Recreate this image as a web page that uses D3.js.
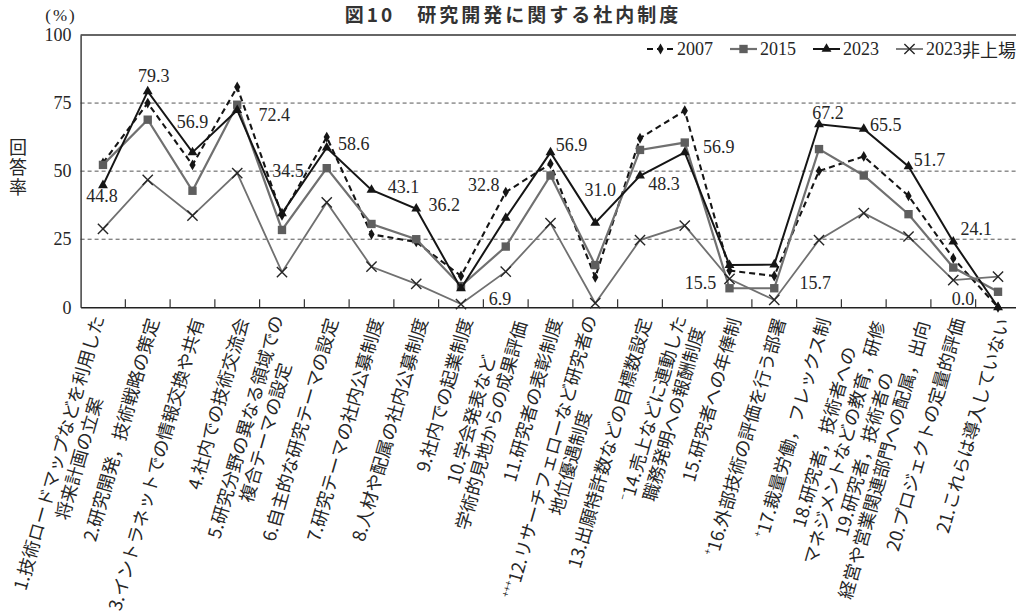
<!DOCTYPE html>
<html>
<head>
<meta charset="utf-8">
<script src="https://cdn.jsdelivr.net/npm/d3@7"></script>
<style>
  body { margin: 0; background: #fff; }
  svg { display: block; }
  .num { font-family: "Liberation Serif", "DejaVu Serif", serif; }
  .jp  { font-family: "Noto Sans CJK JP", "Noto Sans", sans-serif; }
  .vertical { writing-mode: vertical-rl; text-orientation: upright; }
</style>
</head>
<body>
<svg id="chart" width="1016" height="613"></svg>
<script>
// ---- data -------------------------------------------------------------
const title = "図10　研究開発に関する社内制度";

const categories = [
  ["1.技術ロードマップなどを利用した", "将来計画の立案"],
  ["2.研究開発，技術戦略の策定"],
  ["3.イントラネットでの情報交換や共有"],
  ["4.社内での技術交流会"],
  ["5.研究分野の異なる領域での", "複合テーマの設定"],
  ["6.自主的な研究テーマの設定"],
  ["7.研究テーマの社内公募制度"],
  ["8.人材や配属の社内公募制度"],
  ["9.社内での起業制度"],
  ["10.学会発表など", "学術的見地からの成果評価"],
  ["11.研究者の表彰制度"],
  ["12.リサーチフェローなど研究者の", "地位優遇制度"],
  ["13.出願特許数などの目標数設定"],
  ["14.売上などに連動した", "職務発明への報酬制度"],
  ["15.研究者への年俸制"],
  ["16.外部技術の評価を行う部署"],
  ["17.裁量労働，フレックス制"],
  ["18.研究者，技術者への", "マネジメントなどの教育，研修"],
  ["19.研究者，技術者の", "経営や営業関連部門への配属，出向"],
  ["20.プロジェクトの定量的評価"],
  ["21.これらは導入していない"]
];
// significance marks printed before some category numbers
const categoryMarks = ["", "", "", "", "", "", "", "", "", "", "",
                       "+++", "", "−", "", "+", "+", "", "", "", ""];

const seriesNames = ["2007", "2015", "2023", "2023非上場"];
const values2007 = [53.0, 75.0, 52.3, 80.9, 33.8, 62.5, 26.8, 24.0, 11.5, 42.3, 52.7,
                    11.0, 62.1, 72.2, 13.5, 11.5, 50.1, 55.4, 40.9, 18.0, 0.0];
const values2015 = [52.3, 68.9, 42.8, 74.4, 28.4, 51.1, 30.6, 25.0, 7.8, 22.3, 48.4,
                    15.5, 57.8, 60.5, 7.0, 7.0, 58.1, 48.4, 34.2, 14.6, 5.7];
const values2023 = [44.8, 79.3, 56.9, 72.4, 34.5, 58.6, 43.1, 36.2, 6.9, 32.8, 56.9,
                    31.0, 48.3, 56.9, 15.5, 15.7, 67.2, 65.5, 51.7, 24.1, 0.0];
const values2023Unlisted = [28.8, 46.8, 33.7, 49.3, 12.9, 38.5, 14.9, 8.6, 1.2, 13.1, 30.9,
                            1.5, 24.7, 30.0, 10.4, 2.7, 24.7, 34.6, 26.0, 10.0, 11.3];

const yTicks = [0, 25, 50, 75, 100];
const gridTicks = [25, 50, 75];

// ---- layout & styles ---------------------------------------------------
const svg = d3.select("#chart");
const plot = { left: 80.6, right: 1020.4, top: 35, bottom: 307.3 };

const x = d3.scaleBand()
  .domain(d3.range(categories.length))
  .range([plot.left, plot.right])
  .paddingInner(0).paddingOuter(0);
const xc = i => x(i) + x.bandwidth() / 2;
const y = d3.scaleLinear().domain([0, 100]).range([plot.bottom, plot.top]);

const styles = [
  { stroke: "#151515", width: 2.1, dash: "6,4", symbol: d3.symbolDiamond, size: 34, fill: "#151515", mstroke: "none" },
  { stroke: "#707070", width: 2.2, dash: null,  symbol: d3.symbolSquare,  size: 70, fill: "#5e5e5e", mstroke: "none" },
  { stroke: "#151515", width: 2.0, dash: null,  symbol: d3.symbolTriangle, size: 42, fill: "#151515", mstroke: "none" },
  { stroke: "#707070", width: 1.8, dash: null,  symbol: d3.symbolX,        size: 70, fill: "none",    mstroke: "#262626" }
];
const seriesValues = [values2007, values2015, values2023, values2023Unlisted];

// offsets of the 2023 value labels from their points (label centre)
const labelOffsets = [
  [-1, 11], [6, -15], [0, -30], [37, 5], [6, -42], [27, -4], [32, -3], [28, -4],
  [39, 10], [-22, -33], [21, -7], [5, -33], [24, 8], [34, -5], [-29, 18], [41, 18],
  [9, -11], [22, -4], [21, -7], [23, -13], [-35, -8]
];

const textColor = "#262626";

// ---- title -------------------------------------------------------------
svg.append("text")
  .attr("class", "jp")
  .attr("x", 513).attr("y", 22)
  .attr("text-anchor", "middle")
  .attr("font-size", 19).attr("font-weight", "bold")
  .attr("letter-spacing", 3)
  .attr("fill", "#333")
  .text(title);

// ---- grid & frame ------------------------------------------------------
svg.append("g")
  .selectAll("line")
  .data(gridTicks)
  .join("line")
  .attr("x1", plot.left).attr("x2", plot.right)
  .attr("y1", d => y(d)).attr("y2", d => y(d))
  .attr("stroke", "#555").attr("stroke-width", 1)
  .attr("stroke-dasharray", "4,3");

svg.append("line")
  .attr("x1", plot.left).attr("x2", plot.right)
  .attr("y1", y(100)).attr("y2", y(100))
  .attr("stroke", "#333").attr("stroke-width", 1.3);

// ---- y axis ------------------------------------------------------------
const yAxis = svg.append("g")
  .attr("transform", `translate(${plot.left},0)`)
  .call(d3.axisLeft(y).tickValues(yTicks).tickSize(0).tickSizeOuter(0).tickPadding(9));
yAxis.select(".domain").attr("stroke", "#333").attr("stroke-width", 1.4);
yAxis.selectAll("text")
  .attr("class", "num")
  .attr("font-size", 18)
  .attr("fill", textColor);

svg.append("text")
  .attr("class", "num")
  .attr("x", 61).attr("y", 15)
  .attr("text-anchor", "middle")
  .attr("dominant-baseline", "central")
  .attr("font-size", 17)
  .attr("letter-spacing", 2)
  .attr("fill", textColor)
  .text("(%)");

// vertical axis title
svg.append("text")
  .attr("class", "jp vertical")
  .attr("x", 18).attr("y", 168)
  .attr("text-anchor", "middle")
  .attr("font-size", 18)
  .attr("letter-spacing", 2)
  .attr("fill", textColor)
  .text("回答率");

// ---- x axis ------------------------------------------------------------
const xAxis = svg.append("g")
  .attr("transform", `translate(0,${plot.bottom})`)
  .call(d3.axisBottom(x).tickSize(0).tickSizeOuter(0).tickFormat(""));
xAxis.select(".domain").attr("stroke", "#222").attr("stroke-width", 1.6);

// category boundary ticks, pointing into the plot
svg.append("g")
  .selectAll("line")
  .data(d3.range(1, categories.length))
  .join("line")
  .attr("x1", d => x(d)).attr("x2", d => x(d))
  .attr("y1", plot.bottom).attr("y2", plot.bottom - 8)
  .attr("stroke", "#333").attr("stroke-width", 1.2);

// rotated category labels: lines centred within the block, block ends at the tick
const lineHeight = 21;
const labelAngle = -74;
const labelLayer = svg.append("g").attr("class", "jp").attr("fill", textColor);
categories.forEach((lines, i) => {
  const g = labelLayer.append("g")
    .attr("transform", `translate(${xc(i) + 4},${plot.bottom + 11}) rotate(${labelAngle})`);
  const texts = lines.map((ln, j) => {
    const t = g.append("text")
      .attr("font-size", 18)
      .attr("dominant-baseline", "central")
      .attr("text-anchor", "middle");
    if (j === 0 && categoryMarks[i]) {
      t.append("tspan")
        .attr("font-size", 10)
        .attr("dy", -5)
        .text(categoryMarks[i]);
      t.append("tspan").attr("dy", 5).text(ln);
    } else {
      t.text(ln);
    }
    return t;
  });
  const w = d3.max(texts, t => t.node().getComputedTextLength());
  texts.forEach((t, j) => {
    t.attr("x", -w / 2)
     .attr("y", (j - (lines.length - 1) / 2) * lineHeight);
  });
});

// ---- series ------------------------------------------------------------
const line = d3.line().x((d, i) => xc(i)).y(d => y(d));

seriesValues.forEach((vals, s) => {
  const st = styles[s];
  const g = svg.append("g");
  g.append("path")
    .datum(vals)
    .attr("d", line)
    .attr("fill", "none")
    .attr("stroke", st.stroke)
    .attr("stroke-width", st.width)
    .attr("stroke-dasharray", st.dash)
    .attr("stroke-linejoin", "miter");
  g.selectAll("path.marker")
    .data(vals)
    .join("path")
    .attr("class", "marker")
    .attr("transform", (d, i) => `translate(${xc(i)},${y(d)})`)
    .attr("d", d3.symbol().type(st.symbol).size(st.size))
    .attr("fill", st.fill)
    .attr("stroke", st.mstroke)
    .attr("stroke-width", 1.4);
});

// value labels for 2023
svg.append("g")
  .selectAll("text")
  .data(values2023)
  .join("text")
  .attr("class", "num")
  .attr("x", (d, i) => xc(i) + labelOffsets[i][0])
  .attr("y", (d, i) => y(d) + labelOffsets[i][1])
  .attr("text-anchor", "middle")
  .attr("dominant-baseline", "central")
  .attr("font-size", 18)
  .attr("fill", textColor)
  .text(d => d3.format(".1f")(d));

// ---- legend ------------------------------------------------------------
const legend = svg.append("g").attr("transform", "translate(647,49)");
let lx = 0;
seriesNames.forEach((name, s) => {
  const st = styles[s];
  const item = legend.append("g").attr("transform", `translate(${lx},0)`);
  item.append("line")
    .attr("x1", 0).attr("x2", 27).attr("y1", 0).attr("y2", 0)
    .attr("stroke", st.stroke).attr("stroke-width", st.width)
    .attr("stroke-dasharray", st.dash);
  item.append("path")
    .attr("transform", "translate(13.5,0)")
    .attr("d", d3.symbol().type(st.symbol).size(st.size))
    .attr("fill", st.fill).attr("stroke", st.mstroke).attr("stroke-width", 1.4);
  const t = item.append("text")
    .attr("x", 30).attr("y", 0)
    .attr("dominant-baseline", "central")
    .attr("font-size", 18)
    .attr("fill", textColor);
  const m = name.match(/^(\d+)(.*)$/);
  t.append("tspan").attr("class", "num").text(m[1]);
  if (m[2]) t.append("tspan").attr("class", "jp").attr("font-size", 18).text(m[2]);
  lx += 30 + t.node().getComputedTextLength() + 17;
});
</script>
</body>
</html>
